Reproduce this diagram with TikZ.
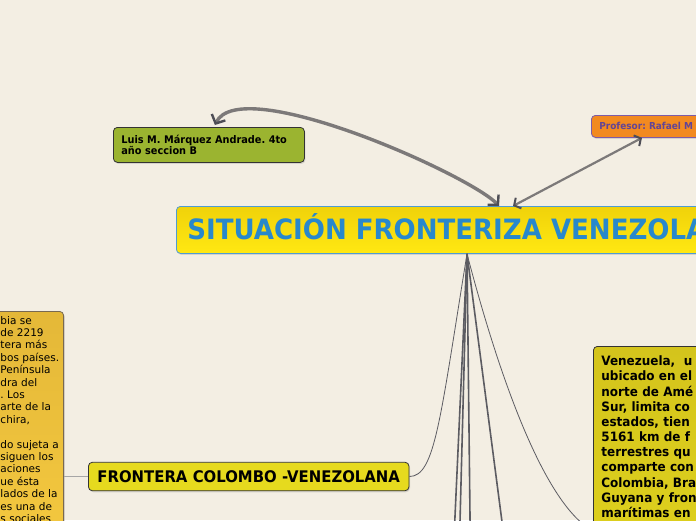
\documentclass[tikz,border=0pt]{standalone}
\usepackage{fontspec}
\newfontfamily\mapfont{DejaVu Sans}[BoldFeatures={FakeStretch=0.93}]
\usetikzlibrary{arrows.meta,shadows}
\frenchspacing
\definecolor{paper}{RGB}{243,238,227}
\definecolor{titleblue}{RGB}{40,136,204}
\definecolor{titleedge}{RGB}{78,156,210}
\definecolor{titletop}{RGB}{240,210,10}
\definecolor{titleyellow}{RGB}{255,232,18}
\definecolor{olive}{RGB}{155,180,48}
\definecolor{orangebox}{RGB}{242,138,32}
\definecolor{purpletext}{RGB}{98,68,150}
\definecolor{purpleedge}{RGB}{125,92,168}
\definecolor{mustardtop}{RGB}{212,196,28}
\definecolor{mustard}{RGB}{230,218,30}
\definecolor{ambertop}{RGB}{228,184,56}
\definecolor{amber}{RGB}{246,202,64}
\definecolor{notebrown}{RGB}{120,105,80}
\definecolor{linegray}{RGB}{124,121,121}
\definecolor{tipgray}{RGB}{78,78,86}
\definecolor{fangray}{RGB}{92,92,98}

\begin{document}
\begin{tikzpicture}[x=1pt,y=-1pt,
  every node/.style={font=\mapfont\bfseries},
  topic/.style={draw=black!80,rounded corners=4pt,line width=.8pt,
    drop shadow={opacity=.25,shadow xshift=1pt,shadow yshift=-1.5pt}},
  link/.style={draw=linegray,line width=3.4pt},
  fan/.style={draw=fangray,line width=1.6pt},
  twig/.style={draw=fangray,line width=.8pt},
  >={Straight Barb[length=7pt,width=15pt,line width=2.4pt,color=tipgray]}]
\useasboundingbox (0,0) rectangle (696,520);
\clip (0,0) rectangle (696,520);
\fill[paper] (0,0) rectangle (696,520);

\node[topic,draw=notebrown,top color=ambertop,bottom color=amber,
  anchor=north east,minimum width=110,minimum height=260] (note) at (64,311) {};
\foreach \k/\t in {0/{bia se},1/{de 2219},2/{tera más},3/{bos países.},4/{Península},
  5/{dra del},6/{. Los},7/{arte de la},8/{chira,},10/{do sujeta a},11/{siguen los},
  12/{aciones},13/{ue ésta},14/{lados de la},15/{es una de},16/{s sociales}}
  \node[font=\mapfont\fontsize{10.5}{12}\selectfont,anchor=base west,inner sep=0]
    (line\k) at (0.3,324+12.4*\k) {\t};

\node[topic,draw=titleedge,top color=titletop,bottom color=titleyellow,text=titleblue,
  font=\mapfont\bfseries\fontsize{28}{30}\selectfont,anchor=north west,
  minimum height=47,inner xsep=11,text height=19.5,text depth=0] (title)
  at (176,206) {SITUACIÓN FRONTERIZA VENEZOLANA};

\node[topic,fill=olive,anchor=north west,minimum height=35,text width=175,
  inner xsep=8,align=left,font=\mapfont\bfseries\fontsize{10.5}{11.7}\selectfont]
  (student) at (113,127) {Luis M. Márquez Andrade. 4to\\año seccion B};

\node[topic,draw=purpleedge,fill=orangebox,text=purpletext,anchor=north west,
  minimum height=22,text width=130,inner xsep=8,align=left,
  font=\mapfont\bfseries\fontsize{9.6}{11}\selectfont] (teacher) at (591,115) {Profesor: Rafael M};

\node[topic,fill=mustard,anchor=west,minimum height=28.5,text width=304,inner xsep=8.3,
  align=center,font=\mapfont\bfseries\fontsize{16}{18}\selectfont] (frontier)
  at (88,476.5) {FRONTERA COLOMBO -VENEZOLANA};

\node[topic,top color=mustardtop,bottom color=mustard,anchor=north west,
  minimum height=368,text width=200,inner xsep=8,inner ysep=9.5,align=left,
  font=\mapfont\bfseries\fontsize{12.9}{15.17}\selectfont] (facts) at (593,346)
  {\vbox to 350pt{\hsize=200pt\noindent Venezuela,\ \ u\\ubicado en el\\norte de Amé\\Sur, limita co\\estados, tien\\5161 km de f\\terrestres qu\\comparte con\\Colombia, Bra\\Guyana y fron\\marítimas en\vfill}};

\coordinate (hub) at ([xshift=291]title.south west);
\coordinate (tA) at ([xshift=323]title.north west);
\coordinate (tB) at ([xshift=337]title.north west);

\draw[link,<->] (tA) .. controls (470,175) and (240,72) .. ([xshift=6,yshift=2]student.north);
\draw[link,line width=2.2pt,>={Straight Barb[length=5pt,width=12pt,line width=2pt,color=tipgray]},<->]
  (tB) -- ([xshift=51]teacher.south west);

\draw[twig] (hub) .. controls (440,420) and (435,476.5) .. (frontier.east);
\draw[twig] (hub) .. controls (500,380) and (545,505) .. (facts.west);
\foreach \x/\n in {453/1,459/2,470.5/3,507/4} {
  \coordinate (leaf\n) at (\x,560);
  \draw[fan] (hub) -- (leaf\n);
}
\draw[twig,draw=gray!70] (note.east |- frontier.west) -- (frontier.west);
\end{tikzpicture}
\end{document}
